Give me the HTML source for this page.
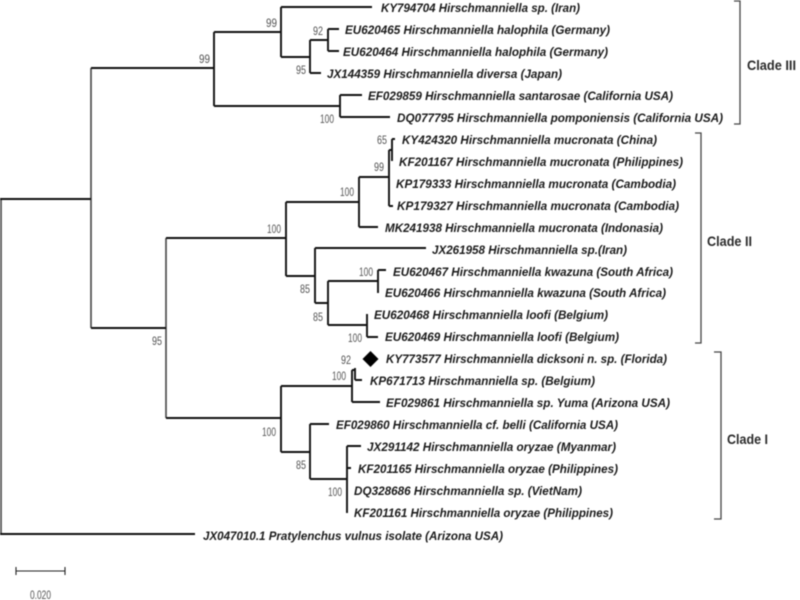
<!DOCTYPE html>
<html><head><meta charset="utf-8">
<style>
html,body{margin:0;padding:0;background:#fff;width:800px;height:600px;overflow:hidden}
svg{display:block;filter:blur(.45px)}
.t{font:italic bold 12px "Liberation Sans",sans-serif;fill:#1a1a1a}
.b{font:12px "Liberation Sans",sans-serif;fill:#555}
.c{font:bold 13.5px "Liberation Sans",sans-serif;fill:#2a2a2a}
</style></head><body>
<svg width="800" height="600" viewBox="0 0 800 600" xmlns="http://www.w3.org/2000/svg">
<g fill="none" stroke="#444" stroke-width="1.6">
<path d="M1 534V199"/>
<path d="M91 68V328"/>
<path d="M166 238V418"/>
</g>
<g fill="none" stroke="#111" stroke-width="1.9">
<path d="M0 534H195M0 199H91"/>
<path d="M91 68H214M214 32V106M214 32H281M281 7V57M281 7H372M281 57H310M310 40V73M310 73H321M310 40H328M328 29V51M328 29H339M328 51H339"/>
<path d="M214 106H340M340 95V117M340 95H362M340 117H390"/>
<path d="M91 328H166M166 238H286M286 202V276M286 202H359M359 177V227M359 177H389M389 150V206M389 150H392M389 206H393M392 139V161M392 139H395M359 227H378"/>
<path d="M286 276H315M315 248V303M315 248H426M315 303H328M328 281V325M328 281H378M378 270V293M378 270H386M328 325H367M367 314V337M367 337H378"/>
<path d="M166 418H281M281 386V452M281 386H352M352 370V402M352 402H380M352 370H355M355 368V380M355 380H362"/>
<path d="M281 452H310M310 424V479M310 424H329M310 479H347M347 446V513M347 446H361M347 468H351"/>
</g>
<path d="M16 571H65M16 567V575M65 567V575" fill="none" stroke="#222" stroke-width="1.1"/>
<path d="M734 1H740V124H734M695 133H701V343H695M714 352H721V519H714" fill="none" stroke="#444" stroke-width="1.3"/>
<polygon points="370.5,351 378.5,359 370.5,367 362.5,359" fill="#000"/>

<g class="t">
<text class="t" x="381" y="12" textLength="199" lengthAdjust="spacingAndGlyphs">KY794704 Hirschmanniella sp. (Iran)</text>
<text class="t" x="345" y="34" textLength="265" lengthAdjust="spacingAndGlyphs">EU620465 Hirschmanniella halophila (Germany)</text>
<text class="t" x="343" y="56" textLength="265" lengthAdjust="spacingAndGlyphs">EU620464 Hirschmanniella halophila (Germany)</text>
<text class="t" x="327" y="78" textLength="235" lengthAdjust="spacingAndGlyphs">JX144359 Hirschmanniella diversa (Japan)</text>
<text class="t" x="368" y="100" textLength="305" lengthAdjust="spacingAndGlyphs">EF029859 Hirschmanniella santarosae (California USA)</text>
<text class="t" x="397" y="122" textLength="326" lengthAdjust="spacingAndGlyphs">DQ077795 Hirschmanniella pomponiensis (California USA)</text>
<text class="t" x="402" y="144" textLength="255" lengthAdjust="spacingAndGlyphs">KY424320 Hirschmanniella mucronata (China)</text>
<text class="t" x="399" y="166" textLength="284" lengthAdjust="spacingAndGlyphs">KF201167 Hirschmanniella mucronata (Philippines)</text>
<text class="t" x="396" y="188" textLength="280" lengthAdjust="spacingAndGlyphs">KP179333 Hirschmanniella mucronata (Cambodia)</text>
<text class="t" x="397" y="210" textLength="282" lengthAdjust="spacingAndGlyphs">KP179327 Hirschmanniella mucronata (Cambodia)</text>
<text class="t" x="385" y="232" textLength="278" lengthAdjust="spacingAndGlyphs">MK241938 Hirschmanniella mucronata (Indonasia)</text>
<text class="t" x="432" y="254" textLength="195" lengthAdjust="spacingAndGlyphs">JX261958 Hirschmanniella sp.(Iran)</text>
<text class="t" x="393" y="276" textLength="280" lengthAdjust="spacingAndGlyphs">EU620467 Hirschmanniella kwazuna (South Africa)</text>
<text class="t" x="385" y="297" textLength="281" lengthAdjust="spacingAndGlyphs">EU620466 Hirschmanniella kwazuna (South Africa)</text>
<text class="t" x="374" y="319" textLength="234" lengthAdjust="spacingAndGlyphs">EU620468 Hirschmanniella loofi (Belgium)</text>
<text class="t" x="385" y="341" textLength="234" lengthAdjust="spacingAndGlyphs">EU620469 Hirschmanniella loofi (Belgium)</text>
<text class="t" x="386" y="363" textLength="281" lengthAdjust="spacingAndGlyphs">KY773577 Hirschmanniella dicksoni n. sp. (Florida)</text>
<text class="t" x="370" y="385" textLength="225" lengthAdjust="spacingAndGlyphs">KP671713 Hirschmanniella sp. (Belgium)</text>
<text class="t" x="386" y="407" textLength="284" lengthAdjust="spacingAndGlyphs">EF029861 Hirschmanniella sp. Yuma (Arizona USA)</text>
<text class="t" x="336" y="429" textLength="282" lengthAdjust="spacingAndGlyphs">EF029860 Hirschmanniella cf. belli (California USA)</text>
<text class="t" x="367" y="451" textLength="249" lengthAdjust="spacingAndGlyphs">JX291142 Hirschmanniella oryzae (Myanmar)</text>
<text class="t" x="358" y="473" textLength="260" lengthAdjust="spacingAndGlyphs">KF201165 Hirschmanniella oryzae (Philippines)</text>
<text class="t" x="354" y="495" textLength="228" lengthAdjust="spacingAndGlyphs">DQ328686 Hirschmanniella sp. (VietNam)</text>
<text class="t" x="354" y="517" textLength="259" lengthAdjust="spacingAndGlyphs">KF201161 Hirschmanniella oryzae (Philippines)</text>
<text class="t" x="203" y="540" textLength="300" lengthAdjust="spacingAndGlyphs">JX047010.1 Pratylenchus vulnus isolate (Arizona USA)</text>
</g>

<text class="b" x="266" y="27" textLength="11" lengthAdjust="spacingAndGlyphs">99</text>
<text class="b" x="199" y="63" textLength="11" lengthAdjust="spacingAndGlyphs">99</text>
<text class="b" x="313" y="35" textLength="10" lengthAdjust="spacingAndGlyphs">92</text>
<text class="b" x="296" y="74" textLength="10" lengthAdjust="spacingAndGlyphs">95</text>
<text class="b" x="320" y="123" textLength="14" lengthAdjust="spacingAndGlyphs">100</text>
<text class="b" x="377" y="144" textLength="10" lengthAdjust="spacingAndGlyphs">65</text>
<text class="b" x="374" y="171" textLength="10" lengthAdjust="spacingAndGlyphs">99</text>
<text class="b" x="340" y="196" textLength="14" lengthAdjust="spacingAndGlyphs">100</text>
<text class="b" x="267" y="233" textLength="14" lengthAdjust="spacingAndGlyphs">100</text>
<text class="b" x="300" y="293" textLength="10" lengthAdjust="spacingAndGlyphs">85</text>
<text class="b" x="313" y="321" textLength="10" lengthAdjust="spacingAndGlyphs">85</text>
<text class="b" x="359" y="276" textLength="14" lengthAdjust="spacingAndGlyphs">100</text>
<text class="b" x="348" y="342" textLength="14" lengthAdjust="spacingAndGlyphs">100</text>
<text class="b" x="152" y="345" textLength="10" lengthAdjust="spacingAndGlyphs">95</text>
<text class="b" x="341" y="364" textLength="10" lengthAdjust="spacingAndGlyphs">92</text>
<text class="b" x="332" y="380" textLength="14" lengthAdjust="spacingAndGlyphs">100</text>
<text class="b" x="262" y="436" textLength="14" lengthAdjust="spacingAndGlyphs">100</text>
<text class="b" x="296" y="469" textLength="10" lengthAdjust="spacingAndGlyphs">85</text>
<text class="b" x="328" y="496" textLength="14" lengthAdjust="spacingAndGlyphs">100</text>
<text class="b" x="30" y="599" textLength="21" lengthAdjust="spacingAndGlyphs">0.020</text>

<text class="c" x="747" y="70" textLength="49" lengthAdjust="spacingAndGlyphs">Clade III</text>
<text class="c" x="707" y="246" textLength="45" lengthAdjust="spacingAndGlyphs">Clade II</text>
<text class="c" x="727" y="444" textLength="41" lengthAdjust="spacingAndGlyphs">Clade I</text>
</svg>
</body></html>
